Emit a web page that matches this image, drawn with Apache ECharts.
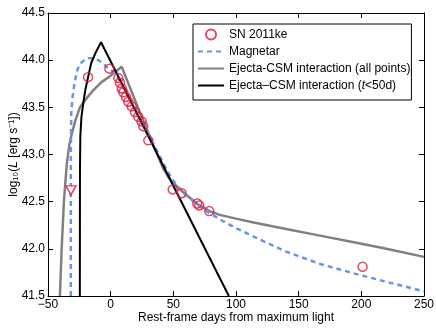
<!DOCTYPE html>
<html>
<head>
<meta charset="utf-8">
<script src="https://cdn.jsdelivr.net/npm/echarts@6/dist/echarts.min.js"></script>
<style>html,body{margin:0;padding:0;background:#fff}#c{width:436px;height:329px}</style>
</head>
<body>
<div id="c"></div>
<script>
// ---- data (rest-frame days, log10 L) ----
const xTicks = [-50, 0, 50, 100, 150, 200, 250];
const yTicks = [41.5, 42.0, 42.5, 43.0, 43.5, 44.0, 44.5];

const observed = [
  [-18, 43.82], [-1, 43.91], [6.1, 43.81], [7.4, 43.76], [8.8, 43.70], [10.1, 43.66],
  [12.2, 43.61], [14.1, 43.56], [16.8, 43.51], [19.4, 43.45], [22, 43.40],
  [24.7, 43.35], [26, 43.30], [30, 43.15], [49.5, 42.63], [56.6, 42.59],
  [69.1, 42.48], [70.7, 42.46], [78.7, 42.40], [201, 41.81]
];
const upperLimit = [[-31.7, 42.62]];

const magnetarCurve = [
  [-31.8, 41.5], [-31.8, 42.8], [-31.7, 43.2], [-31.4, 43.45], [-30.3, 43.62], [-28.7, 43.77],
  [-26.5, 43.9], [-24.5, 43.96], [-21, 44.0], [-18, 44.02], [-14, 44.02], [-10, 44.0],
  [-6, 43.97], [-3.5, 43.93], [0, 43.9], [3.2, 43.86], [6, 43.81], [10, 43.71],
  [15, 43.59], [20, 43.47], [25, 43.35], [30, 43.22], [35, 43.09], [40, 42.96],
  [45, 42.83], [50, 42.72], [55, 42.64], [60, 42.57], [70, 42.46], [80, 42.37],
  [90, 42.29], [100, 42.22], [114, 42.13], [140, 41.97], [167, 41.84], [194, 41.74],
  [220, 41.65], [250, 41.55]
];

const csmAllCurve = [
  [-40.5, 41.5], [-39.1, 42.0], [-37.3, 42.5], [-35, 42.9], [-33, 43.1], [-31, 43.22],
  [-28, 43.37], [-24.5, 43.5], [-19, 43.6], [-14, 43.68], [-7, 43.77], [-0.6, 43.83],
  [5, 43.89], [8.8, 43.93], [21.4, 43.51], [34, 43.1], [42, 42.85], [46, 42.76],
  [50, 42.70], [57, 42.61], [68.6, 42.48], [79, 42.40], [87, 42.36], [100, 42.32],
  [114, 42.28], [140, 42.21], [167, 42.14], [194, 42.07], [220, 42.0], [250, 41.915]
];

const csmEarlyCurve = [
  [-24.6, 41.5], [-24.5, 42.8], [-24.2, 43.2], [-23.3, 43.4], [-21.8, 43.55], [-20, 43.7],
  [-18, 43.82], [-15.5, 43.97], [-12, 44.08], [-7.7, 44.19], [94.3, 41.5]
];

const FONT = '"Liberation Sans", Arial, sans-serif';
const FS = 12;
const RED = '#e31a3c';

const fmtX = v => (v < 0 ? '\u2212' + Math.abs(v) : String(v));

const chart = echarts.init(document.getElementById('c'), null, {renderer: 'canvas'});
const axisCommon = {
  axisLine: {show: true, onZero: false, lineStyle: {color: '#000', width: 1}},
  axisTick: {show: true, inside: true, length: 5, lineStyle: {color: '#000', width: 1}},
  splitLine: {show: false}
};
const hideSym = {opacity: 0};
chart.setOption({
  animation: false,
  backgroundColor: '#fff',
  textStyle: {fontFamily: FONT},
  grid: {left: 48, right: 12, top: 13, bottom: 33, outerBoundsMode: 'none', containLabel: false},
  xAxis: [
    Object.assign({
      type: 'value', min: xTicks[0], max: xTicks[xTicks.length - 1], interval: 50,
      name: 'Rest-frame days from maximum light', nameLocation: 'middle', nameGap: 16,
      nameMoveOverlap: false,
      nameTextStyle: {fontFamily: FONT, fontSize: FS, color: '#000'},
      axisLabel: {formatter: fmtX, fontFamily: FONT, fontSize: FS, color: '#000', margin: 3}
    }, axisCommon),
    Object.assign({
      type: 'value', position: 'top', min: xTicks[0], max: xTicks[xTicks.length - 1], interval: 50,
      axisLabel: {show: false}
    }, axisCommon)
  ],
  yAxis: [
    Object.assign({
      type: 'value', min: yTicks[0], max: yTicks[yTicks.length - 1], interval: 0.5,
      name: '{n|log\u2081\u2080(}{i|L}{n| [erg s\u207B\u00B9])}', nameLocation: 'middle', nameGap: 28,
      nameMoveOverlap: false,
      nameTextStyle: {
        rich: {
          n: {fontFamily: FONT, fontSize: FS, color: '#000'},
          i: {fontFamily: FONT, fontSize: FS, color: '#000', fontStyle: 'italic'}
        }
      },
      axisLabel: {formatter: v => v.toFixed(1), fontFamily: FONT, fontSize: FS, color: '#000', margin: 3}
    }, axisCommon),
    Object.assign({
      type: 'value', position: 'right', min: yTicks[0], max: yTicks[yTicks.length - 1], interval: 0.5,
      axisLabel: {show: false}
    }, axisCommon)
  ],
  legend: {
    orient: 'vertical', left: 193, top: 24,
    padding: [2, 1, 6, 4],
    itemWidth: 26, itemHeight: 10, itemGap: 0,
    backgroundColor: '#fff', borderColor: '#000', borderWidth: 1,
    data: [
      {name: 'SN 2011ke'},
      {name: 'Magnetar', itemStyle: hideSym},
      {name: 'Ejecta-CSM interaction (all points)', itemStyle: hideSym},
      {name: 'Ejecta\u2013CSM interaction (t<50d)', itemStyle: hideSym}
    ],
    formatter: function (name) {
      if (name.indexOf('(t<50d)') >= 0) return '{n|Ejecta\u2013CSM interaction (}{i|t}{n|<50d)}';
      return '{n|' + name + '}';
    },
    textStyle: {
      fontFamily: FONT, fontSize: FS, color: '#000', lineHeight: 17,
      rich: {
        n: {fontFamily: FONT, fontSize: FS, color: '#000', lineHeight: 17},
        i: {fontFamily: FONT, fontSize: FS, color: '#000', fontStyle: 'italic', lineHeight: 17}
      }
    }
  },
  series: [
    {
      name: 'Ejecta-CSM interaction (all points)', type: 'line', data: csmAllCurve,
      showSymbol: false, symbol: 'none', smooth: false, z: 2,
      lineStyle: {color: '#808080', width: 2.5}, itemStyle: {color: '#808080'}
    },
    {
      name: 'Magnetar', type: 'line', data: magnetarCurve,
      showSymbol: false, symbol: 'none', smooth: false, z: 3,
      lineStyle: {color: '#6495ed', width: 2.5, type: [5, 4]}, itemStyle: {color: '#6495ed'}
    },
    {
      name: 'Ejecta\u2013CSM interaction (t<50d)', type: 'line', data: csmEarlyCurve,
      showSymbol: false, symbol: 'none', smooth: false, z: 4,
      lineStyle: {color: '#000', width: 2}, itemStyle: {color: '#000'}
    },
    {
      name: 'SN 2011ke', type: 'scatter', data: observed, symbol: 'circle', symbolSize: 9, z: 5,
      itemStyle: {color: 'rgba(0,0,0,0)', borderColor: RED, borderWidth: 1.5}
    },
    {
      name: 'limit', type: 'scatter', data: upperLimit, symbol: 'triangle', symbolRotate: 180,
      symbolSize: [10, 9], z: 5,
      itemStyle: {color: '#fff', borderColor: RED, borderWidth: 1.5}
    }
  ]
});
</script>
</body>
</html>
